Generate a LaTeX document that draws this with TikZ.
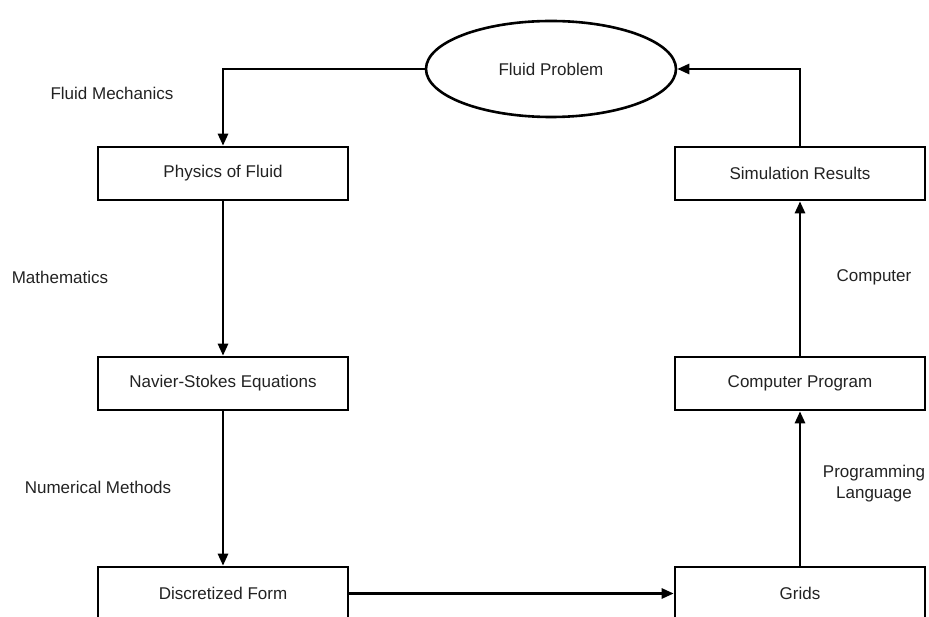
\documentclass[tikz,border=0pt]{standalone}
\usepackage{fontspec}
\setmainfont{Liberation Sans}
\usetikzlibrary{shapes.geometric,arrows.meta}
\definecolor{txt}{HTML}{222222}
\begin{document}
\begin{tikzpicture}[x=1pt,y=-1pt,
  every node/.style={font=\fontsize{17}{20}\selectfont,text=txt},
  box/.style={draw=black,line width=2.6pt,fill=white,minimum width=250pt,minimum height=53pt,inner sep=0pt},
  oval/.style={draw=black,line width=2.6pt,ellipse,minimum width=250pt,minimum height=96pt,inner sep=0pt},
  conn/.style={draw=black,line width=2.6pt,-{Triangle[length=12pt,width=10pt]}},
  lbl/.style={align=center}]
\useasboundingbox (0,0) rectangle (929,617);
\clip (0,0) rectangle (929,617);
\node[oval] (fp) at (551,69) {Fluid Problem};
\node[box] (pf) at (223,173.5) {Physics of Fluid};
\node[box] (ns) at (223,383.5) {Navier-Stokes Equations};
\node[box] (df) at (223,593.5) {Discretized Form};
\node[box] (sr) at (800,173.5) {Simulation Results};
\node[box] (cp) at (800,383.5) {Computer Program};
\node[box] (gr) at (800,593.5) {Grids};
\node[lbl] (l1) at (112,93) {Fluid Mechanics};
\node[lbl] (l2) at (60,277) {Mathematics};
\node[lbl] (l3) at (98,487) {Numerical Methods};
\node[lbl] (l4) at (874,277) {Computer};
\node[lbl,inner sep=0pt] (l5) at (874,484) {Programming\\[1pt]Language};
\draw[conn] (fp.west) -| (pf.north);
\draw[conn] (sr.north) |- (fp.east);
\draw[conn] (pf.south) -- (ns.north);
\draw[conn] (ns.south) -- (df.north);
\draw[conn] (df.east) -- (gr.west);
\draw[conn] (gr.north) -- (cp.south);
\draw[conn] (cp.north) -- (sr.south);
\end{tikzpicture}
\end{document}
